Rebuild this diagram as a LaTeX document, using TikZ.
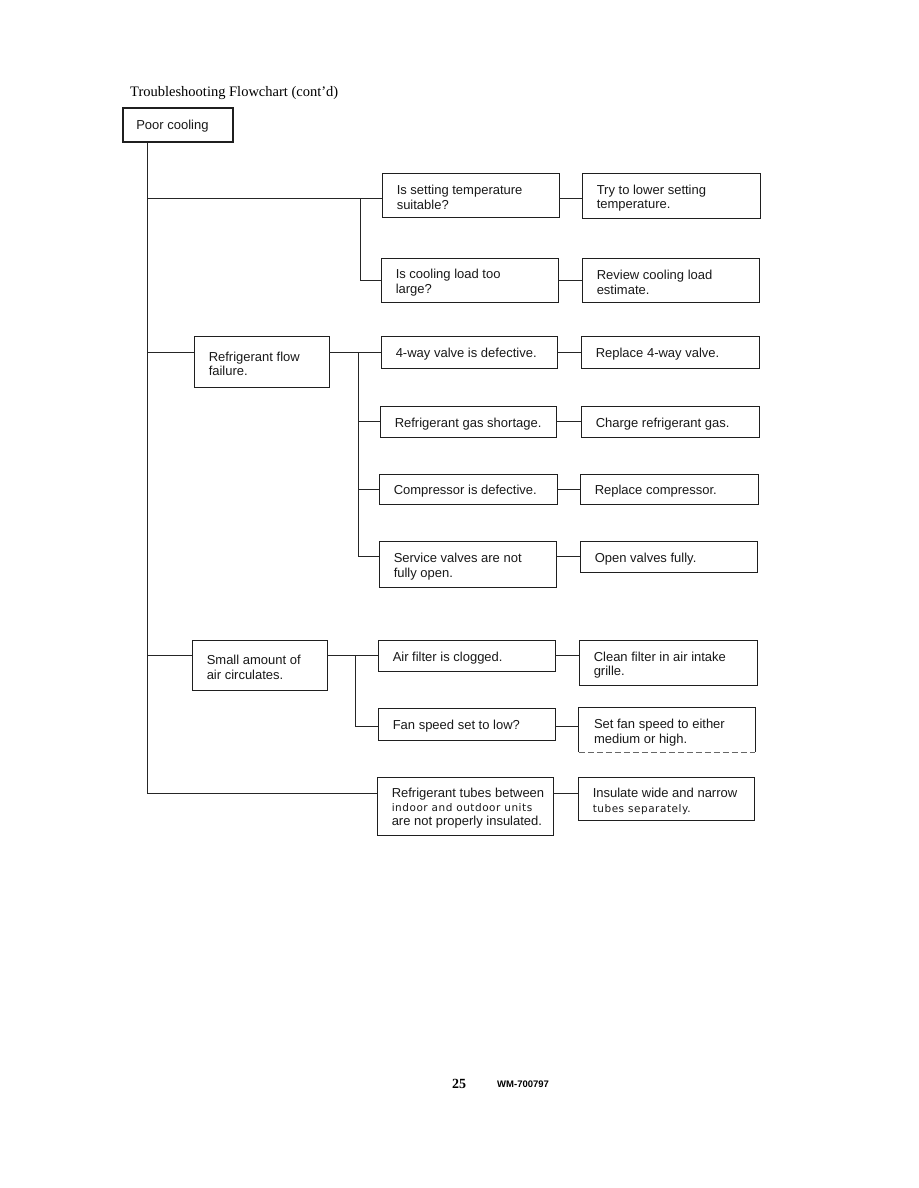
\documentclass[tikz,border=0pt]{standalone}
\usepackage{fontspec}
\newfontfamily\arialf{Liberation Sans}
\newfontfamily\seriff{Liberation Serif}
\newfontfamily\smallf[LetterSpace=5]{DejaVu Sans}
\usetikzlibrary{fit}
\tikzset{
  box/.style={draw=black!88, line width=0.9pt, inner sep=0pt},
  txt/.style={font=\arialf\fontsize{13}{14.5}\selectfont, align=left, inner sep=0pt, anchor=west, text=black!90},
  wire/.style={draw=black!85, line width=0.8pt},
}
\newcommand\bx[5]{\node[box, fit={(#2,-#3) (#4,-#5)}] (#1) {};}
\newcommand\tx[2]{\node[txt] (#1t) at ([xshift=15pt,yshift=-2.5pt]#1.west) {#2};}
\begin{document}
\begin{tikzpicture}[x=1pt,y=1pt]
\useasboundingbox (0,0) rectangle (918,-1188);
\fill[white] (0,0) rectangle (918,-1188);
% title
\node[anchor=base west, inner sep=0pt, font=\seriff\fontsize{14.5}{16}\selectfont] (title) at (130,-97) {Troubleshooting Flowchart (cont\textquoteright d)};
% root
\node[box, line width=1.8pt, fit={(123,-108) (233,-142)}] (poor) {};
\node[txt] (poort) at ([xshift=14pt,yshift=-1.5pt]poor.west) {Poor cooling};
% column 1
\bx{rf}{194}{336}{329}{387}
\tx{rf}{Refrigerant flow\\failure.}
\bx{sa}{192}{640}{327}{690}
\tx{sa}{Small amount of\\air circulates.}
% column 2
\bx{q1}{382}{173}{559}{217}
\tx{q1}{Is setting temperature\\suitable?}
\bx{q2}{381}{258}{558}{302}
\tx{q2}{Is cooling load too\\large?}
\bx{c1}{381}{336}{557}{368}
\tx{c1}{4-way valve is defective.}
\bx{c2}{380}{406}{556}{437}
\tx{c2}{Refrigerant gas shortage.}
\bx{c3}{379}{474}{557}{504}
\tx{c3}{Compressor is defective.}
\bx{c4}{379}{541}{556}{587}
\tx{c4}{Service valves are not\\fully open.}
\bx{e1}{378}{640}{555}{671}
\tx{e1}{Air filter is clogged.}
\bx{e2}{378}{708}{555}{740}
\tx{e2}{Fan speed set to low?}
\bx{g1}{377}{777}{553}{835}
\node[txt, font=\arialf\fontsize{13}{14}\selectfont] (g1t) at ([xshift=15pt,yshift=-2pt]g1.west) {Refrigerant tubes between\\{\smallf\fontsize{10.5}{14}\selectfont indoor and outdoor units}\\are not properly insulated.};
% column 3
\bx{a1}{582}{173}{760}{218}
\tx{a1}{Try to lower setting\\temperature.}
\bx{a2}{582}{258}{759}{302}
\tx{a2}{Review cooling load\\estimate.}
\bx{d1}{581}{336}{759}{368}
\tx{d1}{Replace 4-way valve.}
\bx{d2}{581}{406}{759}{437}
\tx{d2}{Charge refrigerant gas.}
\bx{d3}{580}{474}{758}{504}
\tx{d3}{Replace compressor.}
\bx{d4}{580}{541}{757}{572}
\tx{d4}{Open valves fully.}
\bx{f1}{579}{640}{757}{685}
\tx{f1}{Clean filter in air intake\\grille.}
\node[inner sep=0pt, fit={(579,-708) (755,-752)}] (f2) {};
\draw[box] (f2.south west) -- (f2.north west) -- (f2.north east) -- (f2.south east);
\draw[draw=black!60, line width=0.7pt, dash pattern=on 6pt off 3pt] (f2.south west) -- (f2.south east);
\tx{f2}{Set fan speed to either\\medium or high.}
\bx{h1}{578}{777}{754}{820}
\node[txt] (h1t) at ([xshift=15pt,yshift=-3pt]h1.west) {Insulate wide and narrow\\{\smallf\fontsize{10.5}{14.5}\selectfont tubes separately.}};
% connectors
\coordinate (mbot) at (147,-793);
\coordinate (q1in) at ([yshift=-3pt]q1.west);
\coordinate (qb) at ([xshift=-21pt]q1in);
\coordinate (cb) at ([xshift=-22pt]c1.west);
\coordinate (eb) at ([xshift=-22pt]e1.west);
\coordinate (e2in) at ([yshift=-2.5pt]e2.west);
\path[wire] (poor.south -| mbot) -- (mbot) -- (mbot -| g1.west);
\path[wire] (mbot |- q1in) -- (q1in);
\path[wire] (qb) |- (q2.west);
\path[wire] (q1.east |- q1in) -- (a1.west |- q1in);
\path[wire] (q2.east) -- (a2.west |- q2.east);
\path[wire] (mbot |- c1.west) -- (rf.west |- c1.west);
\path[wire] (rf.east |- c1.west) -- (c1.west);
\path[wire] (cb) |- (c2.west);
\path[wire] (cb) |- (c3.west);
\path[wire] (cb) |- (c4.west |- d4.west);
\path[wire] (c1.east) -- (d1.west |- c1.east);
\path[wire] (c2.east) -- (d2.west |- c2.east);
\path[wire] (c3.east) -- (d3.west |- c3.east);
\path[wire] (c4.east |- d4.west) -- (d4.west);
\path[wire] (mbot |- e1.west) -- (sa.west |- e1.west);
\path[wire] (sa.east |- e1.west) -- (e1.west);
\path[wire] (eb) |- (e2in);
\path[wire] (e1.east) -- (f1.west |- e1.east);
\path[wire] (e2.east |- e2in) -- (f2.west |- e2in);
\path[wire] (g1.east |- mbot) -- (h1.west |- mbot);
% footer
\node[anchor=base west, inner sep=0pt, font=\seriff\bfseries\fontsize{14}{16}\selectfont] (pg) at (452,-1088) {25};
\node[anchor=base west, inner sep=0pt, font=\arialf\bfseries\fontsize{9.5}{11}\selectfont] (doc) at (497,-1087) {WM-700797};
\end{tikzpicture}
\end{document}
